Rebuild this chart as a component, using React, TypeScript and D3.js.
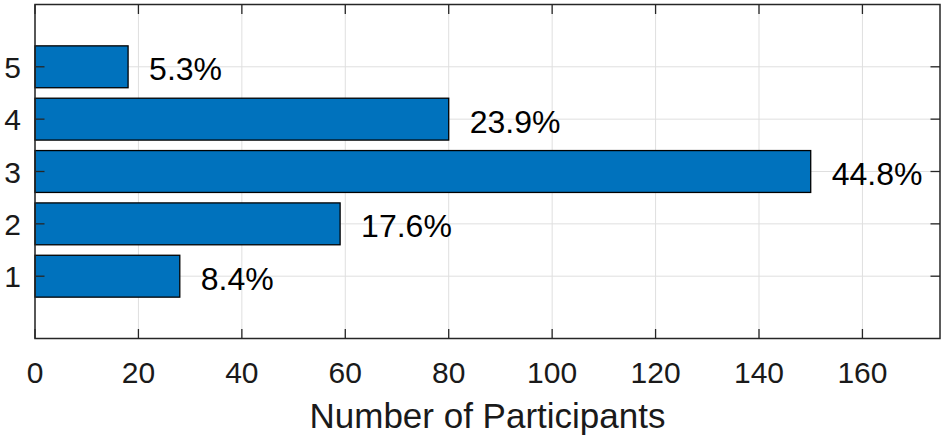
import React from "react";
import * as d3 from "d3";

const categories = [1, 2, 3, 4, 5];
const counts = [28, 59, 150, 80, 18];
const percentLabels = ["8.4%", "17.6%", "44.8%", "23.9%", "5.3%"];
const xTicks = [0, 20, 40, 60, 80, 100, 120, 140, 160];
const xLabel = "Number of Participants";

const W = 945;
const H = 439;
const M = { left: 35, right: 5, top: 4.5, bottom: 100.5 };

export default function App() {
  const x = d3.scaleLinear().domain([0, 175]).range([M.left, W - M.right]);
  const y = d3.scaleLinear().domain([-0.19, 6.19]).range([H - M.bottom, M.top]);
  const barH = y(0) - y(0.8);
  const axisColor = "#262626";
  const font = "'Liberation Sans', Arial, Helvetica, sans-serif";
  const x0 = x(0), x1 = x(175), yT = y(6.19), yB = y(-0.19);
  const tick = 9.5;
  return (
    <svg width={W} height={H} style={{ position: "absolute", left: 0, top: 0, background: "#fff" }} fontFamily={font}>
      <rect x={0} y={0} width={W} height={H} fill="#fff" />
      {/* grid */}
      {xTicks.map((t) => (
        <line key={"gx" + t} x1={x(t)} x2={x(t)} y1={yT} y2={yB} stroke="#dfdfdf" strokeWidth={1} />
      ))}
      {categories.map((c) => (
        <line key={"gy" + c} x1={x0} x2={x1} y1={y(c)} y2={y(c)} stroke="#dfdfdf" strokeWidth={1} />
      ))}
      {/* bars */}
      {categories.map((c, i) => (
        <rect
          key={"b" + c}
          x={x(0)}
          y={y(c) - barH / 2}
          width={x(counts[i]) - x(0)}
          height={barH}
          fill="#0072BD"
          stroke="#000"
          strokeWidth={1.3}
        />
      ))}
      {/* percent labels */}
      {categories.map((c, i) => (
        <text key={"p" + c} x={x(counts[i]) + 21} y={y(c)} dy="0.42em" fontSize={32} fill="#000">
          {percentLabels[i]}
        </text>
      ))}
      {/* ticks */}
      {xTicks.map((t) => (
        <g key={"tx" + t}>
          <line x1={x(t)} x2={x(t)} y1={yB} y2={yB - tick} stroke={axisColor} strokeWidth={1.3} />
          <line x1={x(t)} x2={x(t)} y1={yT} y2={yT + tick} stroke={axisColor} strokeWidth={1.3} />
          <text x={x(t)} y={383} textAnchor="middle" fontSize={30} fill="#1a1a1a">
            {t}
          </text>
        </g>
      ))}
      {categories.map((c) => (
        <g key={"ty" + c}>
          <line x1={x0} x2={x0 + tick} y1={y(c)} y2={y(c)} stroke={axisColor} strokeWidth={1.3} />
          <line x1={x1} x2={x1 - tick} y1={y(c)} y2={y(c)} stroke={axisColor} strokeWidth={1.3} />
          <text x={21} y={y(c)} dy="0.37em" textAnchor="end" fontSize={30} fill="#1a1a1a">
            {c}
          </text>
        </g>
      ))}
      {/* box */}
      <rect x={x0} y={yT} width={x1 - x0} height={yB - yT} fill="none" stroke={axisColor} strokeWidth={1.5} />
      <text x={(x0 + x1) / 2} y={428} textAnchor="middle" fontSize={35} fill="#1a1a1a">
        {xLabel}
      </text>
    </svg>
  );
}
